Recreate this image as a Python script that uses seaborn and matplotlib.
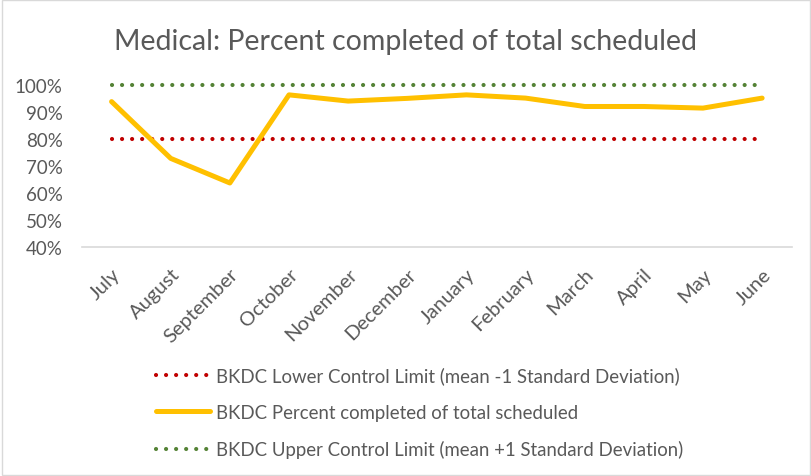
import seaborn as sns
import matplotlib.pyplot as plt
import pandas as pd

months = ["July", "August", "September", "October", "November", "December",
          "January", "February", "March", "April", "May", "June"]
pct_completed = [0.938, 0.728, 0.637, 0.963, 0.940, 0.950,
                 0.963, 0.951, 0.920, 0.920, 0.914, 0.951]
lower_limit = [0.798] * 12
upper_limit = [0.999] * 12

lbl_lower = "BKDC Lower Control Limit (mean -1 Standard Deviation)"
lbl_pct = "BKDC Percent completed of total scheduled"
lbl_upper = "BKDC Upper Control Limit (mean +1 Standard Deviation)"

df = pd.DataFrame({"month": months, "pct": pct_completed,
                   "lower": lower_limit, "upper": upper_limit})
df["pos"] = range(len(months))

sns.set_style("white")
plt.rcParams["font.family"] = ["Lato", "DejaVu Sans"]

fig = plt.figure(figsize=(8.12, 4.77), dpi=100)
ax = fig.add_axes([0.101, 0.48, 0.874, 0.34])

dots = (0, (0.01, 2.4))
sns.lineplot(data=df, x="pos", y="lower", ax=ax, color="#C00000", lw=3.0,
             linestyle=dots, dash_capstyle="round", label=lbl_lower, clip_on=False)
sns.lineplot(data=df, x="pos", y="pct", ax=ax, color="#FFC000", lw=3.6,
             solid_capstyle="round", label=lbl_pct, clip_on=False)
sns.lineplot(data=df, x="pos", y="upper", ax=ax, color="#548235", lw=3.0,
             linestyle=dots, dash_capstyle="round", label=lbl_upper, clip_on=False)

ax.set_xlim(-0.5, 11.5)
ax.set_ylim(0.4, 1.0)
ax.set_yticks([0.4, 0.5, 0.6, 0.7, 0.8, 0.9, 1.0])
ax.set_yticklabels([f"{int(round(v * 100))}%" for v in ax.get_yticks()])
ax.set_xticks(range(len(months)))
ax.set_xticklabels(months, rotation=45, ha="right", rotation_mode="anchor")
ax.tick_params(axis="y", colors="#595959", labelsize=13.5, length=0, pad=14)
ax.tick_params(axis="x", colors="#595959", labelsize=14.5, length=0, pad=13)
ax.set_xlabel("")
ax.set_ylabel("")
for s in ["top", "left", "right"]:
    ax.spines[s].set_visible(False)
ax.spines["bottom"].set_color("#D9D9D9")
ax.spines["bottom"].set_linewidth(1.2)

fig.suptitle("Medical: Percent completed of total scheduled", y=0.94,
             fontsize=20.5, color="#595959")

handles, labels = ax.get_legend_handles_labels()
ax.get_legend().remove()
fig.legend(handles, labels, loc="upper left", bbox_to_anchor=(0.172, 0.265),
           frameon=False, fontsize=13.4, labelcolor="#595959", handlelength=2.9,
           handletextpad=0.3, labelspacing=1.05)

fig.patches.append(plt.Rectangle((0.002, 0.003), 0.996, 0.994, transform=fig.transFigure,
                                 fill=False, edgecolor="#D9D9D9", lw=1))
fig.savefig("out.png", dpi=100)
